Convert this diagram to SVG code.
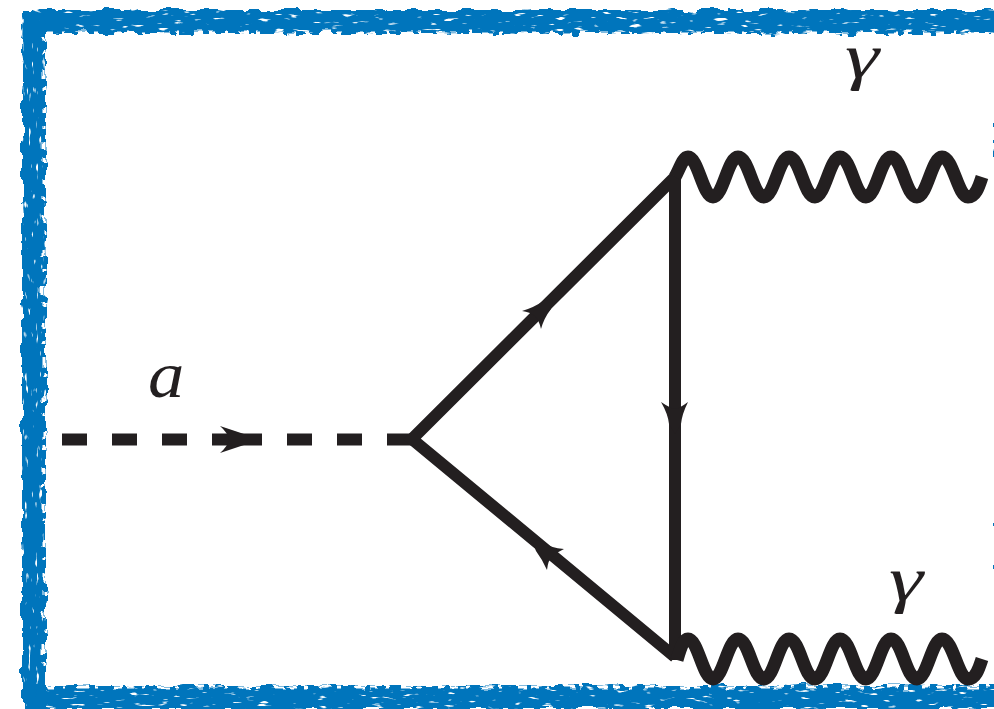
<svg xmlns="http://www.w3.org/2000/svg" width="994" height="709" viewBox="0 0 994 709">
<style>
.ln{fill:none;stroke:#231f20;stroke-width:12}
.wv{fill:none;stroke:#231f20;stroke-width:13}
.ds{fill:none;stroke:#231f20;stroke-width:12}
.hd{fill:#231f20}
.bd{fill:none;stroke:#0075bc;stroke-width:24}
.sp{fill:none;stroke:#fff;stroke-width:3}
.lb{font-family:"Liberation Serif",serif;font-style:italic;fill:#231f20}
</style>
<defs>
<filter id="roughH" filterUnits="userSpaceOnUse" x="0" y="0" width="1040" height="740">
<feTurbulence type="fractalNoise" baseFrequency="0.05 0.09" numOctaves="3" seed="7" result="n"/>
<feDisplacementMap in="SourceGraphic" in2="n" scale="9" xChannelSelector="R" yChannelSelector="G" result="d"/>
<feTurbulence type="fractalNoise" baseFrequency="0.07 0.28" numOctaves="2" seed="21"/>
<feColorMatrix type="matrix" values="0 0 0 0 0 0 0 0 0 0 0 0 0 0 0 9 0 0 0 -5.9"/>
<feComposite in="d" operator="out"/>
</filter>
<filter id="roughV" filterUnits="userSpaceOnUse" x="0" y="0" width="1040" height="740">
<feTurbulence type="fractalNoise" baseFrequency="0.09 0.05" numOctaves="3" seed="11" result="n"/>
<feDisplacementMap in="SourceGraphic" in2="n" scale="9" xChannelSelector="R" yChannelSelector="G" result="d"/>
<feTurbulence type="fractalNoise" baseFrequency="0.28 0.07" numOctaves="2" seed="33"/>
<feColorMatrix type="matrix" values="0 0 0 0 0 0 0 0 0 0 0 0 0 0 0 9 0 0 0 -6.1"/>
<feComposite in="d" operator="out"/>
</filter>
</defs>
<g id="frame">
<path class="bd" d="M24 22H1010M24 697H1010" filter="url(#roughH)"/>
<path class="bd" d="M34 12V709M1008 28V709" filter="url(#roughV)"/>
<path class="sp" d="M46 33H990M46 687H990" stroke-dasharray="7 9 3 12 11 6 4 15 9 5" filter="url(#roughH)"/>
<path class="sp" d="M44 36V684" stroke-dasharray="6 11 3 14 9 7 4 18" filter="url(#roughV)"/>
</g>
<g id="connectors">
<path class="ds" d="M62 439.500H87M112 439.500H137M162 439.500H187M212 439.500H262M287 439.500H312M337 439.500H362M387 439.500H412"/>
<path class="ln" d="M675 177L412 439L675 657"/>
<path class="ds" d="M675 176V660"/>
<path class="wv" d="M675 177C680 168 683 157 688 157C698 157 703 197 713 197C723 197 728 157 738 157C749 157 753 197 764 197C774 197 779 157 789 157C800 157 804 197 815 197C825 197 830 157 840 157C851 157 855 197 866 197C876 197 881 157 891 157C902 157 906 197 917 197C927 197 932 157 942 157C953 157 958 197 968 197C976 197 979 186 982 177"/>
<path class="wv" d="M677 660C680 650 683 639 688 639C698 639 703 679 713 679C723 679 728 639 738 639C749 639 753 679 764 679C774 679 779 639 789 639C800 639 804 679 815 679C825 679 830 639 840 639C851 639 855 679 866 679C876 679 881 639 891 639C902 639 906 679 917 679C927 679 932 639 942 639C953 639 958 679 968 679C976 679 979 668 982 659"/>
<path class="hd" d="M220 426L250 436V443L220 453Q228 446 229 439.500Q228 433 220 426Z"/>
<path class="hd" d="M661 402Q670 408 675 409Q680 408 688 402Q682 414 681 424L675 434L669 424Q668 414 661 402Z"/>
<path class="hd" d="M522 311Q535 307 543 301L553 299L551 309Q544 318 541 329Q539 320 535 316Q530 312 522 311Z"/>
<path class="hd" d="M564 549Q551 548 542 542L531 538L536 551Q542 559 547 570Q548 560 552 557Q557 552 564 549Z"/>
</g>
<g id="label-a"><text class="lb" transform="translate(148 397) scale(1.1 1)" font-size="66">a</text></g>
<g id="label-gamma-top"><text class="lb" transform="translate(845 77) scale(1.35 1)" font-size="64">γ</text></g>
<g id="label-gamma-bottom"><text class="lb" transform="translate(889 600) scale(1.35 1)" font-size="64">γ</text></g>
</svg>
